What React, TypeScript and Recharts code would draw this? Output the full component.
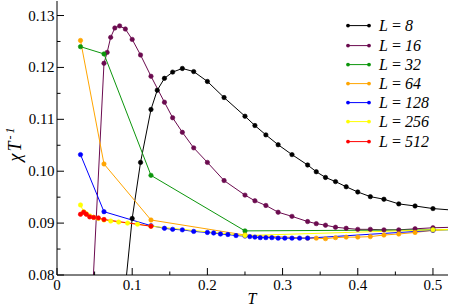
import { LineChart, Line, XAxis, YAxis, Legend } from 'recharts'

// temperatures T and chi/T, one pair of arrays per system size
const T8 = [0.0909, 0.1, 0.1111, 0.125, 0.1333, 0.1429, 0.1538, 0.1667, 0.1818, 0.2, 0.2222, 0.25, 0.2632, 0.2778, 0.2941, 0.3125, 0.3333, 0.3448, 0.3571, 0.3704, 0.3846, 0.4, 0.4167, 0.4348, 0.4545, 0.4762, 0.5, 0.5263]
const CHI8 = [0.0777, 0.0909, 0.1017, 0.1119, 0.1156, 0.1179, 0.1191, 0.1198, 0.1192, 0.1173, 0.1142, 0.1106, 0.1088, 0.107, 0.1051, 0.1032, 0.1012, 0.0999, 0.0988, 0.098, 0.097, 0.096, 0.0951, 0.0946, 0.0937, 0.0933, 0.0928, 0.0925]

const T16 = [0.03125, 0.0625, 0.0667, 0.0714, 0.0769, 0.0833, 0.0909, 0.1, 0.1111, 0.125, 0.1429, 0.1538, 0.1667, 0.1818, 0.2, 0.2222, 0.25, 0.2632, 0.2778, 0.2941, 0.3125, 0.3333, 0.3448, 0.3571, 0.3704, 0.3846, 0.4, 0.4167, 0.4348, 0.4545, 0.4762, 0.5, 0.5263]
const CHI16 = [0.03, 0.1208, 0.1229, 0.1258, 0.1276, 0.128, 0.1274, 0.1254, 0.1224, 0.1183, 0.1133, 0.1103, 0.1075, 0.1045, 0.1017, 0.0982, 0.0954, 0.0943, 0.0934, 0.0921, 0.0913, 0.0903, 0.0899, 0.0896, 0.0892, 0.089, 0.0888, 0.0888, 0.0887, 0.0887, 0.0889, 0.0891, 0.0892]

const T32 = [0.03125, 0.0625, 0.125, 0.25, 0.5, 1.0]
const CHI32 = [0.124, 0.1226, 0.0992, 0.0885, 0.0887, 0.0889]

const T64 = [0.03125, 0.0625, 0.125, 0.25, 0.3333, 0.3448, 0.3571, 0.3704, 0.3846, 0.4, 0.4167, 0.4348, 0.4545, 0.4762, 0.5, 0.5263]
const CHI64 = [0.1252, 0.1014, 0.0906, 0.0877, 0.0871, 0.0871, 0.087, 0.0872, 0.0873, 0.0873, 0.0874, 0.0877, 0.0879, 0.0882, 0.0886, 0.0888]

const T128 = [0.03125, 0.0625, 0.125, 0.1429, 0.1538, 0.1667, 0.1818, 0.2, 0.2083, 0.2174, 0.2273, 0.2381, 0.25, 0.2564, 0.2632, 0.2703, 0.2778, 0.2857, 0.2941, 0.303, 0.3125, 0.3226, 0.3333, 0.5]
const CHI128 = [0.1032, 0.0922, 0.0895, 0.089, 0.0888, 0.0887, 0.0884, 0.0882, 0.0881, 0.0879, 0.0878, 0.0876, 0.0875, 0.0874, 0.0873, 0.0872, 0.0872, 0.0872, 0.0871, 0.0871, 0.0871, 0.0871, 0.0871, 0.0886]

const T256 = [0.03125, 0.0355, 0.039, 0.0435, 0.0488, 0.055, 0.0625, 0.0714, 0.082, 0.0938, 0.1071, 0.125, 0.25, 0.5, 0.5263]
const CHI256 = [0.0935, 0.0922, 0.0918, 0.0914, 0.0911, 0.0909, 0.0906, 0.0904, 0.0902, 0.09, 0.0898, 0.0894, 0.0876, 0.0887, 0.0888]

const T512 = [0.03125, 0.0355, 0.039, 0.0435, 0.0488, 0.055, 0.0625, 0.125]
const CHI512 = [0.0917, 0.0921, 0.0917, 0.0912, 0.0911, 0.091, 0.0907, 0.0894]

const X_TICKS = [0, 0.05, 0.1, 0.15, 0.2, 0.25, 0.3, 0.35, 0.4, 0.45, 0.5]
const X_LABELS = ['0', '0.1', '0.2', '0.3', '0.4', '0.5']
const Y_TICKS = [0.08, 0.085, 0.09, 0.095, 0.1, 0.105, 0.11, 0.115, 0.12, 0.125, 0.13]
const Y_LABELS = ['0.08', '0.09', '0.10', '0.11', '0.12', '0.13']

const SERIES = [
  { size: '8', color: '#000000', T: T8, chi: CHI8 },
  { size: '16', color: '#6b0b4f', T: T16, chi: CHI16 },
  { size: '32', color: '#0c960c', T: T32, chi: CHI32 },
  { size: '64', color: '#ffa500', T: T64, chi: CHI64 },
  { size: '128', color: '#0000ff', T: T128, chi: CHI128 },
  { size: '256', color: '#ffff00', T: T256, chi: CHI256 },
  { size: '512', color: '#ff0000', T: T512, chi: CHI512 },
]

const FONT = "'Liberation Serif', 'Times New Roman', serif"

const toRows = (T: number[], chi: number[]) => T.map((t, i) => ({ T: t, chi: chi[i] }))

const BottomTick = ({ x, y, index }: any) => {
  const major = index % 2 === 0
  return (
    <g>
      <line x1={x} x2={x} y1={y} y2={y - (major ? 7 : 3.5)} stroke="#000" />
      {major && (
        <text x={x} y={y + 14.5} textAnchor="middle" style={{ fontFamily: FONT, fontSize: 15 }} fill="#000">
          {X_LABELS[index / 2]}
        </text>
      )}
    </g>
  )
}

const TopTick = ({ x, y, index }: any) => (
  <line x1={x} x2={x} y1={y} y2={y + (index % 2 === 0 ? 7 : 3.5)} stroke="#000" />
)

const LeftTick = ({ x, y, index }: any) => {
  const major = index % 2 === 0
  return (
    <g>
      <line x1={x} x2={x + (major ? 7 : 3.5)} y1={y} y2={y} stroke="#000" />
      {major && (
        <text x={x - 2.5} y={y + 5} textAnchor="end" style={{ fontFamily: FONT, fontSize: 15 }} fill="#000">
          {Y_LABELS[index / 2]}
        </text>
      )}
    </g>
  )
}

const RightTick = ({ x, y, index }: any) => (
  <line x1={x} x2={x - (index % 2 === 0 ? 7 : 3.5)} y1={y} y2={y} stroke="#000" />
)

const LegendBox = () => (
  <div style={{ fontFamily: FONT, fontSize: 16, color: '#000' }}>
    {SERIES.map((s) => (
      <div key={s.size} style={{ display: 'flex', alignItems: 'center', height: 19.2 }}>
        <svg width={30} height={19.2} style={{ display: 'block' }}>
          <line x1={4} x2={25} y1={9.6} y2={9.6} stroke={s.color} strokeWidth={1} />
          <circle cx={4} cy={9.6} r={1.9} fill={s.color} />
          <circle cx={25} cy={9.6} r={1.9} fill={s.color} />
        </svg>
        <span style={{ marginLeft: 5, whiteSpace: 'nowrap', lineHeight: '19.2px' }}>
          <i>L</i> = <i>{s.size}</i>
        </span>
      </div>
    ))}
  </div>
)

export default function App() {
  return (
    <div style={{ position: 'absolute', left: 0, top: 0, fontFamily: FONT }}>
      <LineChart width={450} height={306} margin={{ top: 1, right: 2, bottom: 0, left: 0 }}>
        <XAxis
          dataKey="T"
          type="number"
          domain={[0, 0.52]}
          ticks={X_TICKS}
          interval={0}
          allowDataOverflow
          height={31}
          tickSize={0}
          tickMargin={0}
          tickLine={false}
          tick={BottomTick}
          axisLine={{ stroke: '#000' }}
          label={{
            content: () => (
              <text x={252} y={304} textAnchor="middle" style={{ fontFamily: FONT, fontSize: 16, fontStyle: 'italic' }} fill="#000">
                T
              </text>
            ),
          }}
        />
        <XAxis
          xAxisId="top"
          orientation="top"
          type="number"
          domain={[0, 0.52]}
          ticks={X_TICKS}
          interval={0}
          allowDataOverflow
          height={0}
          tickSize={0}
          tickMargin={0}
          tickLine={false}
          tick={TopTick}
          axisLine={{ stroke: '#000' }}
        />
        <YAxis
          type="number"
          domain={[0.08, 0.1328]}
          ticks={Y_TICKS}
          interval={0}
          allowDataOverflow
          width={57}
          tickSize={0}
          tickMargin={0}
          tickLine={false}
          tick={LeftTick}
          axisLine={{ stroke: '#000' }}
          label={{
            content: () => (
              <text
                transform="rotate(-90)"
                x={-143.5}
                y={21}
                textAnchor="middle"
                style={{ fontFamily: FONT, fontSize: 18, fontStyle: 'italic', letterSpacing: 2 }}
                fill="#000"
              >
                <tspan>χ</tspan>
                <tspan>T</tspan>
                <tspan style={{ fontSize: 12 }} dy={-7}>-1</tspan>
              </text>
            ),
          }}
        />
        <YAxis
          yAxisId="right"
          orientation="right"
          type="number"
          domain={[0.08, 0.1328]}
          ticks={Y_TICKS}
          interval={0}
          allowDataOverflow
          width={0}
          tickSize={0}
          tickMargin={0}
          tickLine={false}
          tick={RightTick}
          axisLine={{ stroke: '#000' }}
        />
        <Legend
          layout="vertical"
          align="center"
          verticalAlign="middle"
          content={() => <LegendBox />}
          wrapperStyle={{ left: 344, top: 16.4, width: 100, height: 135 }}
        />
        {SERIES.map((s) => (
          <Line
            key={s.size}
            data={toRows(s.T, s.chi)}
            dataKey="chi"
            name={`L = ${s.size}`}
            type="linear"
            stroke={s.color}
            strokeWidth={1}
            dot={{ r: 2.2, fill: s.color, stroke: s.color, strokeWidth: 0.6 }}
            activeDot={false}
            isAnimationActive={false}
          />
        ))}
      </LineChart>
    </div>
  )
}
